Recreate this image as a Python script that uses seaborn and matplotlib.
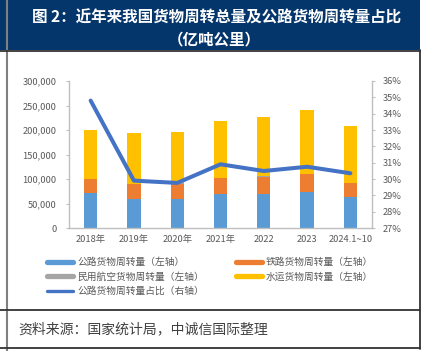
import numpy as np
import pandas as pd
import matplotlib
matplotlib.use("Agg")
import matplotlib.pyplot as plt
import seaborn as sns
from matplotlib.lines import Line2D
from matplotlib.patches import Rectangle
from matplotlib.ticker import FuncFormatter, MultipleLocator

# 数据（亿吨公里）
years = ["2018年", "2019年", "2020年", "2021年", "2022", "2023", "2024.1~10"]
road = [71249, 59636, 60172, 69088, 68958, 73950, 63900]
rail = [28821, 30182, 30515, 33238, 35946, 36438, 28600]
air = [262, 263, 240, 278, 254, 284, 250]
water = [99053, 103963, 105834, 115578, 121003, 129952, 116000]
road_share = [34.8, 29.9, 29.76, 30.9, 30.49, 30.75, 30.35]  # %

C_ROAD = "#5B9BD5"
C_RAIL = "#ED7D31"
C_AIR = "#A5A5A5"
C_WATER = "#FFC000"
C_LINE = "#4472C4"
C_TXT = "#595959"
C_AXIS = "#BFBFBF"

sns.set_style("white")
plt.rcParams["font.family"] = ["Noto Sans CJK SC", "DejaVu Sans"]

df = pd.DataFrame({"year": years, "road": road, "rail": rail, "air": air, "water": water})
df["c1"] = df["road"]
df["c2"] = df["c1"] + df["rail"]
df["c3"] = df["c2"] + df["air"]
df["c4"] = df["c3"] + df["water"]

W, H = 432, 351
fig = plt.figure(figsize=(W / 100, H / 100), dpi=100)
ax = fig.add_axes([69 / W, 1 - 228 / H, (372 - 69) / W, (228 - 81) / H])

# 堆积柱：从上往下叠画
for col, c in [("c4", C_WATER), ("c3", C_AIR), ("c2", C_RAIL), ("c1", C_ROAD)]:
    sns.barplot(data=df, x="year", y=col, order=years, color=c, saturation=1,
                width=0.31, linewidth=0, ax=ax)

ax.set_ylim(0, 300000)
ax.yaxis.set_major_locator(MultipleLocator(50000))
ax.yaxis.set_major_formatter(FuncFormatter(lambda v, p: f"{int(v):,}"))
ax.set_xlabel("")
ax.set_ylabel("")

ax2 = ax.twinx()
sns.lineplot(x=np.arange(len(years)), y=road_share, ax=ax2, color=C_LINE, lw=2.9)
ax2.set_ylim(27, 36)
ax2.yaxis.set_major_locator(MultipleLocator(1))
ax2.yaxis.set_major_formatter(FuncFormatter(lambda v, p: f"{v:.0f}%"))
ax.set_xlim(-0.5, len(years) - 0.5)

for a in (ax, ax2):
    for s in a.spines.values():
        s.set_color(C_AXIS)
        s.set_linewidth(1)
    a.spines["top"].set_visible(False)
ax.spines["right"].set_visible(False)
ax2.spines["left"].set_visible(False)
ax2.spines["bottom"].set_visible(False)

ax.tick_params(axis="y", labelsize=6.7, labelcolor=C_TXT, length=2, color=C_AXIS, pad=7)
ax.tick_params(axis="x", labelsize=6.7, labelcolor=C_TXT, length=0, pad=5)
ax2.tick_params(axis="y", labelsize=6.7, labelcolor=C_TXT, length=2, color=C_AXIS, pad=6)

# 图例
h_road = Line2D([], [], color=C_ROAD, lw=3.8)
h_rail = Line2D([], [], color=C_RAIL, lw=3.8)
h_air = Line2D([], [], color=C_AIR, lw=3.8)
h_water = Line2D([], [], color=C_WATER, lw=3.8)
h_line = Line2D([], [], color=C_LINE, lw=2.4)
handles = [h_road, h_air, h_line, h_rail, h_water]
labels = ["公路货物周转量（左轴）", "民用航空货物周转量（左轴）", "公路货物周转量占比（右轴）",
          "铁路货物周转量（左轴）", "水运货物周转量（左轴）"]
fig.legend(handles, labels, ncol=2, loc="upper left", bbox_to_anchor=(47 / W, 1 - 257 / H),
           frameon=False, fontsize=7, labelcolor=C_TXT, handlelength=2.7,
           handletextpad=0.4, columnspacing=3.3, labelspacing=0.46,
           borderpad=0, borderaxespad=0)

# 标题栏与边框
fig.add_artist(Rectangle((0, 1 - 50 / H), 420 / W, 50 / H, transform=fig.transFigure,
                         facecolor="#04356B", edgecolor="none", zorder=0))
fig.text(217 / W, 1 - 18 / H, "图 2：近年来我国货物周转总量及公路货物周转量占比",
         ha="center", va="center", color="white", fontsize=11.2, fontweight="bold")
fig.text(214 / W, 1 - 39 / H, "（亿吨公里）",
         ha="center", va="center", color="white", fontsize=11.2, fontweight="bold")

def fline(x0, y0, x1, y1, color="#333333", lw=1.3):
    fig.add_artist(Line2D([x0 / W, x1 / W], [1 - y0 / H, 1 - y1 / H],
                          transform=fig.transFigure, color=color, lw=lw))

fline(7, 0, 7, 351, color="#7F7F7F", lw=1.5)
fline(0, 50.5, 420, 50.5)
fline(420, 50, 420, 349)
fline(0, 309.5, 420, 309.5)
fline(0, 347.5, 420, 347.5)

fig.text(18 / W, 1 - 329 / H, "资料来源：国家统计局，中诚信国际整理",
         ha="left", va="center", color="#404040", fontsize=10, style="italic")

fig.savefig("out.png", dpi=100)
